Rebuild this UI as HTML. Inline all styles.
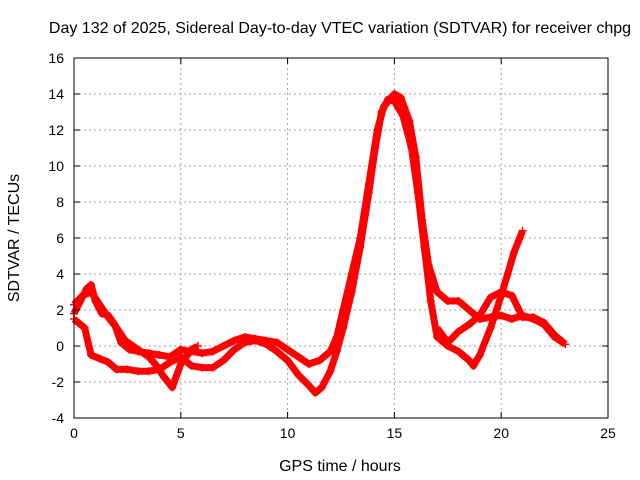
<!DOCTYPE html>
<html><head><meta charset="utf-8"><style>
body{margin:0;background:#fff;}
svg{display:block;font-family:"Liberation Sans",sans-serif;}
</style></head><body>
<svg id="chart" width="640" height="480">
<rect width="640" height="480" fill="#fff"/>
<text x="340" y="33" font-size="16" text-anchor="middle">Day 132 of 2025, Sidereal Day-to-day VTEC variation (SDTVAR) for receiver chpg</text>
<text x="340" y="471" font-size="16" text-anchor="middle">GPS time / hours</text>
<text transform="translate(19,238) rotate(-90)" font-size="16" text-anchor="middle">SDTVAR / TECUs</text>
<g id="grid"></g><g id="marks"></g><g id="axes"></g>
</svg>
<script>
const xTicks=[0,5,10,15,20,25];
const yTicks=[-4,-2,0,2,4,6,8,10,12,14,16];
const seriesAx=[0,0.3,0.6,0.8,1.0,1.3,1.6,1.9,2.2,2.6,3,3.5,4,4.5,5,5.5,6,6.5,7,7.5,8,8.5,9,9.5,10,10.5,11,11.5,12,12.3,12.6,13,13.4,13.8,14.2,14.5,15,15.3,15.7,16,16.3,16.6,17,17.5,18,18.5,19,19.5,20,20.5,21,21.5,22,22.5,23];
const seriesAy=[1.8,2.5,3.2,3.4,2.5,1.8,1.7,1.2,0.2,-0.2,-0.3,-0.4,-0.5,-0.6,-0.2,-0.3,-0.4,-0.3,0.0,0.3,0.5,0.4,0.3,0.2,-0.2,-0.6,-1.0,-0.8,-0.3,0.5,2.0,4,6,9,12,13.3,14,13.8,12.5,10.5,7,4.5,3,2.5,2.5,2,1.5,1.6,1.7,1.5,1.7,1.5,1.2,0.5,0.1];
const seriesBx=[0,0.5,0.8,1.2,1.6,2,2.5,3,3.5,4,4.5,5,5.5,6,6.5,7,7.5,8,8.5,9,9.5,10,10.5,11,11.3,11.6,12,12.3,12.6,13,13.4,13.8,14.1,14.4,14.7,15,15.4,15.8,16.1,16.4,16.7,17,17.5,18,18.5,18.7,19,19.5,20,20.3,20.6,21];
const seriesBy=[1.5,1,-0.5,-0.7,-0.9,-1.3,-1.3,-1.4,-1.4,-1.3,-0.9,-0.6,-1.1,-1.2,-1.2,-0.8,-0.2,0.2,0.3,0.1,-0.3,-0.8,-1.6,-2.2,-2.6,-2.3,-1.4,-0.3,1,3,5.5,8.5,11,13,13.7,13.6,12.8,11,8.5,5.5,2.5,0.5,0,-0.3,-0.8,-1.1,-0.5,1,2.8,4,5.2,6.4];
const seriesCx=[0,0.4,0.8,1.2,1.6,2,2.4,3,3.5,3.8,4.2,4.6,5,5.5,5.8];
const seriesCy=[2.3,2.8,3.0,2.3,1.6,1.0,0.3,-0.2,-0.6,-1.0,-1.7,-2.3,-1.0,-0.2,0.0];
const seriesDx=[17,17.5,18,18.5,19,19.5,20,20.5,21,21.5,22,22.5,23];
const seriesDy=[1.0,0.2,0.8,1.2,1.7,2.7,3.0,2.8,1.6,1.6,1.3,0.6,0.1];
const X0=74,X1=608,Y0=418,Y1=58;
const xs=v=>X0+(v-0)/(25-0)*(X1-X0);
const ys=v=>Y0-(v+4)/(20)*(Y0-Y1);
const NS='http://www.w3.org/2000/svg';
function mk(t,a,p){const e=document.createElementNS(NS,t);for(const k in a)e.setAttribute(k,a[k]);p.appendChild(e);return e;}
const grid=document.getElementById('grid'),axes=document.getElementById('axes'),marks=document.getElementById('marks');
xTicks.forEach(t=>{const x=xs(t);
 if(t>0&&t<25){const g=mk('line',{x1:x,x2:x,y1:Y1,y2:Y0,stroke:'#a0a0a0','stroke-dasharray':'2,3'},grid);
 }
 const tk=mk('path',{d:`M${x},${Y0}v-6M${x},${Y1}v6`,stroke:'#000'},axes);
 
 const l=mk('text',{x:x,y:Y0+20,'font-size':14,'text-anchor':'middle'},axes);l.textContent=t;
 });
yTicks.forEach(t=>{const y=ys(t);
 if(t>-4&&t<16){const g=mk('line',{x1:X0,x2:X1,y1:y,y2:y,stroke:'#a0a0a0','stroke-dasharray':'2,3'},grid);
 }
 const tk=mk('path',{d:`M${X0},${y}h6M${X1},${y}h-6`,stroke:'#000'},axes);
 
 const l=mk('text',{x:X0-10,y:y+5,'font-size':14,'text-anchor':'end'},axes);l.textContent=t;
 });
const fr=mk('rect',{x:X0,y:Y1,width:X1-X0,height:Y0-Y1,fill:'none',stroke:'#000'},axes);

[[seriesAx,seriesAy,'series-a'],[seriesBx,seriesBy,'series-b'],[seriesCx,seriesCy,'series-c'],[seriesDx,seriesDy,'series-d']].forEach(([sx,sy,n])=>{
 const pts=sx.map((v,i)=>xs(v)+','+ys(sy[i])).join(' ');
 const pl=mk('polyline',{points:pts,fill:'none',stroke:'#ff0000','stroke-width':7,'stroke-linejoin':'round'},marks);
 
 sx.forEach((v,i)=>{const x=xs(v),y=ys(sy[i]);
  const p=mk('path',{d:`M${x-4},${y}h8M${x},${y-4}v8`,stroke:'#ff0000','stroke-width':1.5},marks);
  });
});
</script>
</body></html>
